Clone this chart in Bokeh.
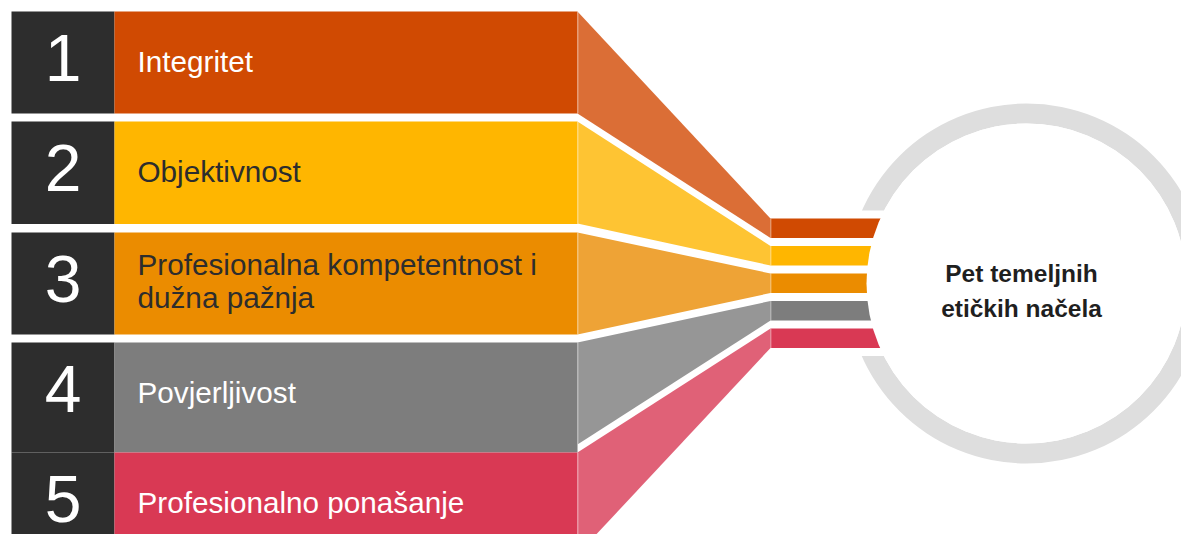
from bokeh.plotting import figure
from bokeh.models import Range1d
from bokeh.core.properties import value
from bokeh.embed import file_html
from bokeh.resources import INLINE

# ---- data ----
numbers = ["1", "2", "3", "4", "5"]
labels = ["Integritet", "Objektivnost", "Profesionalna kompetentnost i\ndužna pažnja",
          "Povjerljivost", "Profesionalno ponašanje"]
bar_colors = ["#d04a02", "#ffb600", "#eb8c00", "#7d7d7d", "#d93954"]
funnel_colors = ["#db6e36", "#fec433", "#eea336", "#969696", "#e06177"]
label_colors = ["#ffffff", "#2d2d2d", "#2d2d2d", "#ffffff", "#ffffff"]
center_title = ["Pet temeljnih", "etičkih načela"]

# ---- layout (pixel-like coordinates) ----
W, H = 1181, 534
row_tops = [11, 121, 232, 342, 452]
row_bottoms = [113, 223.5, 334, 452, 554]
row_h = 102
num_left, num_right = 11, 114
bar_right = 577
funnel_right = 770
small_tops = [218, 245.5, 273, 300.5, 328]
small_h = 19.5
cx, cy, r_in, r_out = 1026, 283, 160, 180

p = figure(width=W, height=H, x_range=Range1d(0, W), y_range=Range1d(H, 0),
           output_backend="svg", toolbar_location=None, min_border=0,
           background_fill_color="white", border_fill_color="white")
p.axis.visible = False
p.grid.visible = False
p.outline_line_color = None

# ring
p.annulus(x=[cx], y=[cy], inner_radius=r_in, outer_radius=r_out,
          fill_color="#dedede", line_color=None)
# white gap in ring where the bars enter
p.quad(left=[840], right=[920], top=[small_tops[0] - 8], bottom=[small_tops[-1] + small_h + 8],
       fill_color="white", line_color=None)

n = len(numbers)
# dark number boxes
p.quad(left=[num_left] * n, right=[num_right] * n, top=row_tops, bottom=row_bottoms,
       fill_color="#2d2d2d", line_color=None)
# coloured bars
p.quad(left=[num_right] * n, right=[bar_right] * n, top=row_tops, bottom=row_bottoms,
       fill_color=bar_colors, line_color=None)
# funnels
xs, ys = [], []
for i in range(n):
    xs.append([bar_right, funnel_right, funnel_right, bar_right])
    ys.append([row_tops[i], small_tops[i], small_tops[i] + small_h, row_tops[i] + row_h])
p.patches(xs=xs, ys=ys, fill_color=funnel_colors, line_color=None)
# thin light separators
p.segment(x0=[bar_right + 0.5] * n, x1=[bar_right + 0.5] * n, y0=row_tops,
          y1=[t + row_h for t in row_tops], line_color="white", line_alpha=0.35, line_width=1)
# small bars into the circle
p.quad(left=[funnel_right] * n, right=[930] * n, top=small_tops,
       bottom=[t + small_h for t in small_tops], fill_color=bar_colors, line_color=None)
p.segment(x0=[funnel_right + 0.5] * n, x1=[funnel_right + 0.5] * n, y0=small_tops,
          y1=[t + small_h for t in small_tops], line_color="white", line_alpha=0.35, line_width=1)

# inner white disc
p.circle(x=[cx], y=[cy], radius=r_in, fill_color="white", line_color=None)

# numbers (middle of the glyph box)
p.text(x=[(num_left + num_right) / 2] * n, y=[t + 46 for t in row_tops], text=numbers,
       text_font=value("Liberation Sans"), text_font_size="66px", text_color="white",
       text_align="center", text_baseline="middle")

# labels
lx, ly, lt, lc = [], [], [], []
for i, lab in enumerate(labels):
    lines = lab.split("\n")
    m = len(lines)
    for k, ln in enumerate(lines):
        lx.append(137)
        ly.append(row_tops[i] + (50 if m == 1 else 48.5) + (k - (m - 1) / 2) * 33)
        lt.append(ln)
        lc.append(label_colors[i])
p.text(x=lx, y=ly, text=lt, text_color=lc, text_font=value("Liberation Sans"),
       text_font_size="29.7px", text_align="left", text_baseline="middle")

# centre title
p.text(x=[1021, 1021], y=[273, 308], text=center_title, text_color="#1f1f1f",
       text_font=value("Liberation Sans"), text_font_style="bold", text_font_size="24.5px",
       text_align="center", text_baseline="middle")

open("out.html", "w").write(file_html(p, INLINE))
